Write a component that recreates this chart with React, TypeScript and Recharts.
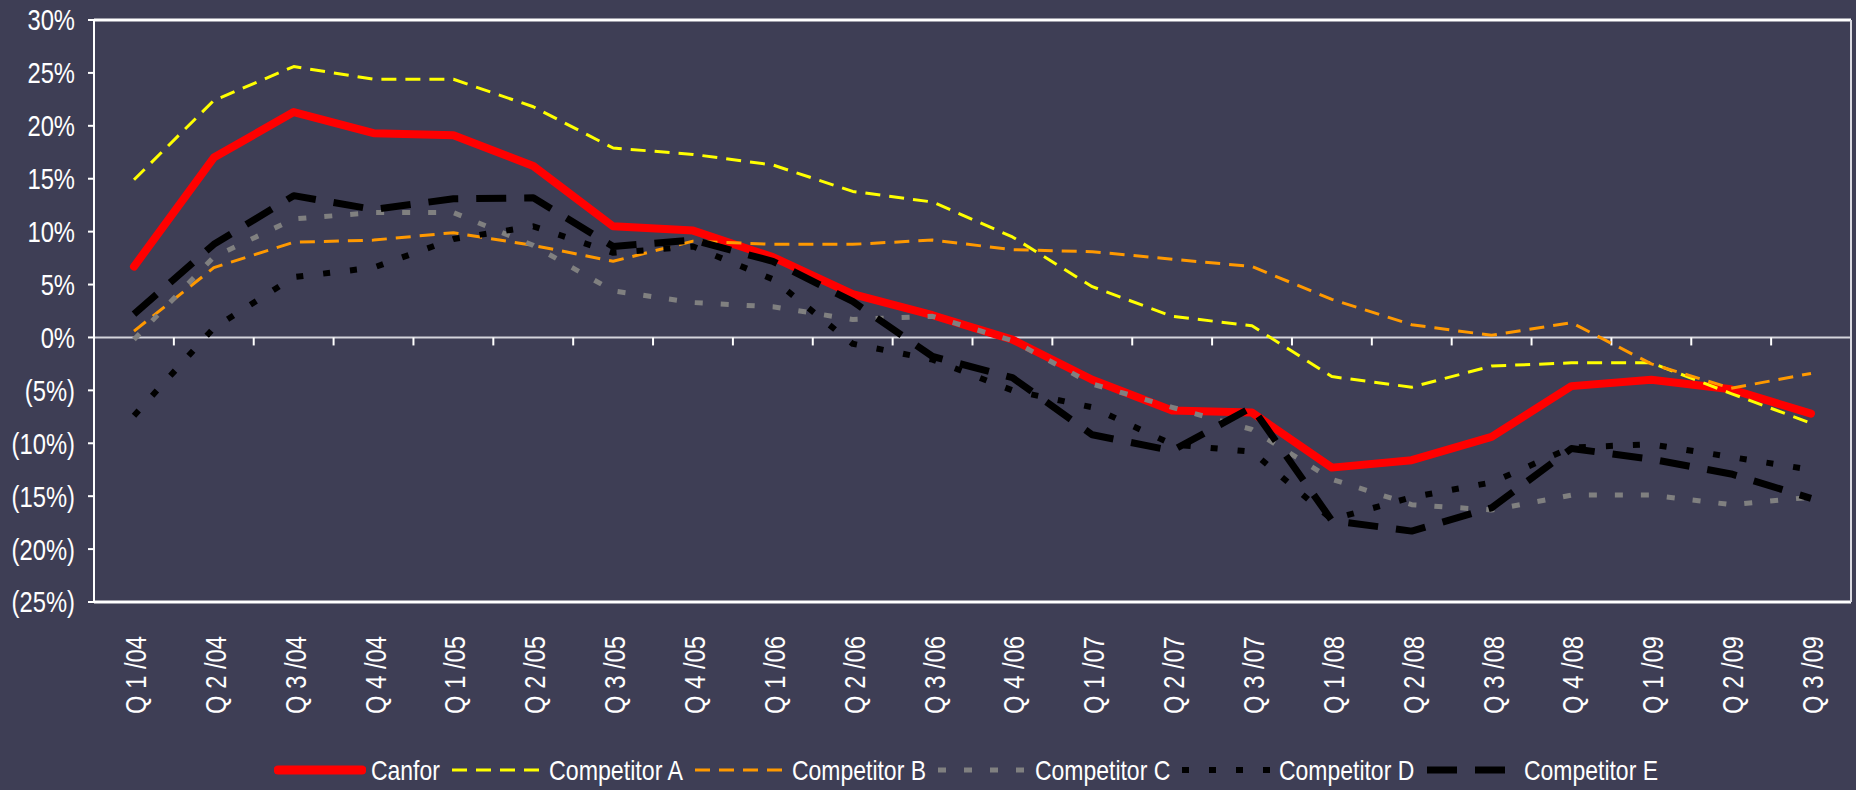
import React from "react";
import { LineChart, Line, XAxis, YAxis, ReferenceLine, Legend } from "recharts";

document.body.style.margin = "0";

const quarters = [
  "Q 1 /04", "Q 2 /04", "Q 3 /04", "Q 4 /04",
  "Q 1 /05", "Q 2 /05", "Q 3 /05", "Q 4 /05",
  "Q 1 /06", "Q 2 /06", "Q 3 /06", "Q 4 /06",
  "Q 1 /07", "Q 2 /07", "Q 3 /07",
  "Q 1 /08", "Q 2 /08", "Q 3 /08", "Q 4 /08",
  "Q 1 /09", "Q 2 /09", "Q 3 /09",
];

const canfor = [6.7, 17.0, 21.3, 19.3, 19.1, 16.2, 10.5, 10.1, 7.6, 4.1, 2.1, -0.2, -4.0, -6.9, -7.1, -12.3, -11.6, -9.4, -4.6, -4.0, -4.9, -7.2];
const competitorA = [14.9, 22.4, 25.6, 24.4, 24.4, 21.8, 17.9, 17.3, 16.3, 13.8, 12.8, 9.5, 4.8, 2.0, 1.1, -3.7, -4.7, -2.7, -2.4, -2.4, -5.3, -8.1];
const competitorB = [0.6, 6.6, 9.0, 9.2, 9.9, 8.7, 7.2, 9.1, 8.8, 8.8, 9.2, 8.3, 8.1, 7.4, 6.7, 3.6, 1.2, 0.2, 1.4, -2.5, -4.8, -3.4];
const competitorC = [-0.2, 7.6, 11.2, 11.8, 11.8, 8.7, 4.4, 3.3, 2.9, 1.7, 2.0, -0.3, -4.4, -6.6, -8.7, -13.4, -15.8, -16.3, -14.9, -14.9, -15.8, -15.1];
const competitorD = [-7.4, 0.9, 5.7, 6.6, 9.3, 10.5, 8.0, 8.6, 5.5, -0.6, -2.1, -5.0, -6.6, -10.1, -10.8, -17.2, -15.1, -13.7, -10.4, -10.1, -11.3, -12.5];
const competitorE = [2.2, 8.8, 13.4, 12.1, 13.1, 13.2, 8.6, 9.2, 7.2, 3.4, -1.8, -3.8, -9.2, -10.7, -6.6, -17.3, -18.3, -16.1, -10.5, -11.5, -12.9, -15.2];

const yTicks = [-25, -20, -15, -10, -5, 0, 5, 10, 15, 20, 25, 30];

const series = [
  { key: "canfor", name: "Canfor", color: "#ff0000", width: 8, dash: undefined as string | undefined },
  { key: "a", name: "Competitor A", color: "#ffff00", width: 3, dash: "15 9" },
  { key: "b", name: "Competitor B", color: "#ff9900", width: 3, dash: "15 9" },
  { key: "c", name: "Competitor C", color: "#808080", width: 5, dash: "8 18" },
  { key: "d", name: "Competitor D", color: "#000000", width: 6, dash: "7 20" },
  { key: "e", name: "Competitor E", color: "#000000", width: 7, dash: "30 18" },
];

const data = quarters.map((q, i) => ({
  q,
  canfor: canfor[i],
  a: competitorA[i],
  b: competitorB[i],
  c: competitorC[i],
  d: competitorD[i],
  e: competitorE[i],
}));

// narrow look: Liberation Sans squeezed horizontally
const FONT = "'Liberation Sans', Arial, sans-serif";
const FS = 29;
const LEGEND_FS = 28;
const NARROW = 0.82;
const BG = "#3e3e55";

const fmtPct = (v: number) => (v < 0 ? `(${-v}%)` : `${v}%`);

let ctx: CanvasRenderingContext2D | null = null;
function textWidth(s: string, size: number) {
  if (!ctx) ctx = document.createElement("canvas").getContext("2d");
  if (!ctx) return s.length * size * 0.5;
  ctx.font = `${size}px ${FONT}`;
  return ctx.measureText(s).width;
}

function PctTick(props: any) {
  const { x, y, payload } = props;
  return (
    <text
      transform={`translate(${x},${y}) scale(${NARROW},1)`}
      dy="0.36em"
      textAnchor="end"
      fill="#ffffff"
      fontSize={FS}
      fontFamily={FONT}
    >
      {fmtPct(payload.value)}
    </text>
  );
}

function QuarterTick(props: any) {
  const { x, y, payload } = props;
  return (
    <text
      transform={`translate(${x + 12},${y + 26}) rotate(-90) scale(${NARROW},1)`}
      textAnchor="end"
      fill="#ffffff"
      fontSize={FS}
      fontFamily={FONT}
    >
      {payload.value}
    </text>
  );
}

function ZeroLine(props: any) {
  const { x1, y1, x2 } = props;
  const step = (x2 - x1) / quarters.length;
  return (
    <g>
      <line x1={x1} y1={y1} x2={x2} y2={y1} stroke="#d4d4dc" strokeWidth={2} />
      {quarters.slice(1).map((q, i) => (
        <line key={q} x1={x1 + step * (i + 1)} y1={y1} x2={x1 + step * (i + 1)} y2={y1 + 8} stroke="#ffffff" strokeWidth={2} />
      ))}
    </g>
  );
}

function LegendContent() {
  return (
    <div
      style={{
        height: 68,
        display: "flex",
        alignItems: "flex-end",
        justifyContent: "center",
        paddingLeft: 88,
        boxSizing: "border-box",
      }}
    >
      {series.map((s) => {
        const w = textWidth(s.name, LEGEND_FS) * NARROW;
        return (
          <div key={s.key} style={{ display: "flex", alignItems: "center", height: 40, marginRight: 10 }}>
            <svg width={92} height={14} style={{ marginRight: 5 }}>
              <line
                x1={s.dash ? 0 : 4}
                y1={7}
                x2={s.dash ? 92 : 88}
                y2={7}
                stroke={s.color}
                strokeWidth={s.dash ? s.width : 9}
                strokeDasharray={s.dash}
                strokeLinecap={s.dash ? "butt" : "round"}
              />
            </svg>
            <svg width={w + 2} height={40} style={{ overflow: "visible" }}>
              <text
                x={0}
                y={30}
                fill="#ffffff"
                fontSize={LEGEND_FS}
                fontFamily={FONT}
                textLength={w}
                lengthAdjust="spacingAndGlyphs"
              >
                {s.name}
              </text>
            </svg>
          </div>
        );
      })}
    </div>
  );
}

export default function App() {
  return (
    <div style={{ width: 1856, height: 790, background: BG }}>
      <LineChart width={1856} height={790} data={data} margin={{ top: 20, right: 0, bottom: 0, left: 0 }}>
        <XAxis
          dataKey="q"
          interval={0}
          height={120}
          padding={{ left: 40, right: 40 }}
          tickLine={false}
          axisLine={{ stroke: "#ffffff", strokeWidth: 3 }}
          tick={<QuarterTick />}
        />
        <YAxis
          domain={[-25, 30]}
          ticks={yTicks}
          width={94}
          tickSize={6}
          tickMargin={13}
          tick={<PctTick />}
          tickLine={{ stroke: "#ffffff", strokeWidth: 2 }}
          axisLine={{ stroke: "#ffffff", strokeWidth: 2 }}
        />
        <YAxis
          yAxisId="right"
          orientation="right"
          width={5}
          tick={false}
          tickLine={false}
          axisLine={{ stroke: "#d8d8e0", strokeWidth: 2 }}
        />
        <ReferenceLine y={30} stroke="#ffffff" strokeWidth={3} />
        <ReferenceLine y={0} shape={<ZeroLine />} />
        {series.map((s) => (
          <Line
            key={s.key}
            dataKey={s.key}
            name={s.name}
            type="linear"
            stroke={s.color}
            strokeWidth={s.width}
            strokeDasharray={s.dash}
            strokeLinejoin="round"
            strokeLinecap={s.dash ? "butt" : "round"}
            dot={false}
            activeDot={false}
            isAnimationActive={false}
          />
        ))}
        <Legend verticalAlign="bottom" content={<LegendContent />} />
      </LineChart>
    </div>
  );
}
